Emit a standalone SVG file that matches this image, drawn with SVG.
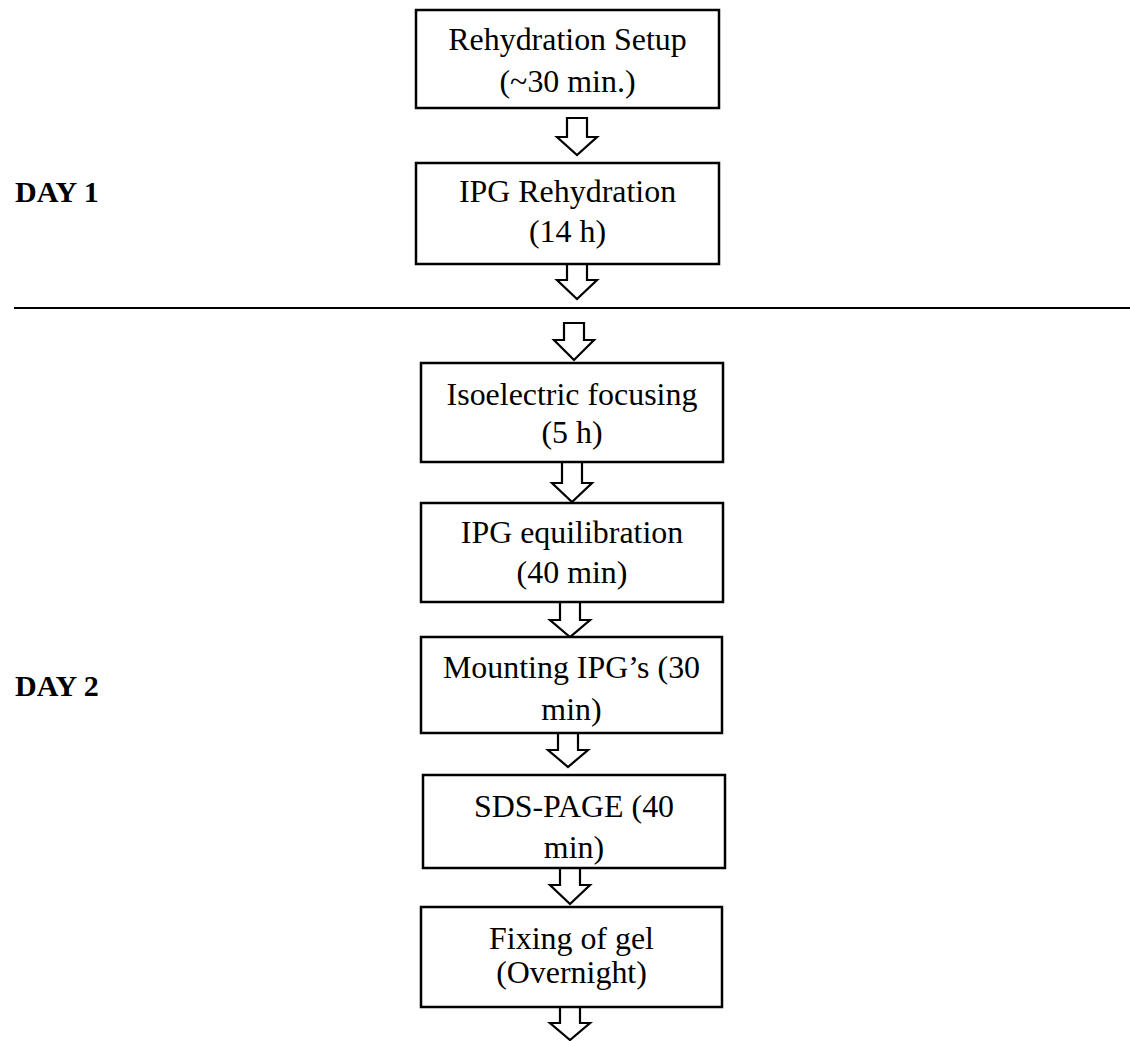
<svg xmlns="http://www.w3.org/2000/svg" width="1130" height="1041" viewBox="0 0 1130 1041">
  <style>
    .box { fill: #ffffff; stroke: #000000; stroke-width: 2.5; }
    .arrow { fill: #ffffff; stroke: #000000; stroke-width: 2.2; stroke-linejoin: miter; }
    .label { font-family: "Liberation Serif", "Times New Roman", serif; font-size: 31px; fill: #000000; text-anchor: middle; }
    .day { font-family: "Liberation Serif", "Times New Roman", serif; font-size: 30px; font-weight: bold; fill: #000000; }
    .rule { stroke: #000000; stroke-width: 2; }
  </style>
  <rect width="1130" height="1041" fill="#ffffff"/>

  <!-- day labels and the line between the two days -->
  <text id="day1" class="day" x="15" y="202">DAY 1</text>
  <text id="day2" class="day" x="15" y="696">DAY 2</text>
  <line id="day-divider" class="rule" x1="14" y1="308" x2="1130" y2="308"/>

  <!-- block arrows between steps -->
  <g id="connectors">
    <polygon class="arrow" points="567,118 567,137 557,137 577,155 597,137 587,137 587,118"/>
    <polygon class="arrow" points="567,264 567,280 557,280 577,299 597,280 587,280 587,264"/>
    <polygon class="arrow" points="564,323 564,340 554,340 574,360 594,340 584,340 584,323"/>
    <polygon class="arrow" points="562,462 562,483 552,483 572,502 592,483 582,483 582,462"/>
    <polygon class="arrow" points="560,602 560,620 550,620 570,637 590,620 580,620 580,602"/>
    <polygon class="arrow" points="558,733 558,750 548,750 568,767 588,750 578,750 578,733"/>
    <polygon class="arrow" points="560,868 560,885 550,885 570,904 590,885 580,885 580,868"/>
    <polygon class="arrow" points="560,1007 560,1023 550,1023 570,1040 590,1023 580,1023 580,1007"/>
  </g>

  <g id="rehydration-setup">
    <rect class="box" x="416" y="10" width="303" height="98"/>
    <g transform="translate(567.5 0) scale(1.03 1)">
      <text class="label" x="0" y="50">Rehydration Setup</text>
      <text class="label" x="0" y="92">(~30 min.)</text>
    </g>
  </g>

  <g id="ipg-rehydration">
    <rect class="box" x="416" y="163" width="303" height="101"/>
    <g transform="translate(567.5 0) scale(1.03 1)">
      <text class="label" x="0" y="202">IPG Rehydration</text>
      <text class="label" x="0" y="242">(14 h)</text>
    </g>
  </g>

  <g id="isoelectric-focusing">
    <rect class="box" x="421" y="363" width="302" height="99"/>
    <g transform="translate(572 0) scale(1.03 1)">
      <text class="label" x="0" y="405">Isoelectric focusing</text>
      <text class="label" x="0" y="443">(5 h)</text>
    </g>
  </g>

  <g id="ipg-equilibration">
    <rect class="box" x="421" y="503" width="302" height="99"/>
    <g transform="translate(572 0) scale(1.03 1)">
      <text class="label" x="0" y="543">IPG equilibration</text>
      <text class="label" x="0" y="583">(40 min)</text>
    </g>
  </g>

  <g id="mounting-ipgs">
    <rect class="box" x="421" y="637" width="301" height="96"/>
    <g transform="translate(571.5 0) scale(1.03 1)">
      <text class="label" x="0" y="678">Mounting IPG’s (30</text>
      <text class="label" x="0" y="720">min)</text>
    </g>
  </g>

  <g id="sds-page">
    <rect class="box" x="423" y="775" width="302" height="93"/>
    <g transform="translate(574 0) scale(1.03 1)">
      <text class="label" x="0" y="817">SDS-PAGE (40</text>
      <text class="label" x="0" y="858">min)</text>
    </g>
  </g>

  <g id="fixing-of-gel">
    <rect class="box" x="421" y="907" width="301" height="100"/>
    <g transform="translate(571.5 0) scale(1.03 1)">
      <text class="label" x="0" y="949">Fixing of gel</text>
      <text class="label" x="0" y="983">(Overnight)</text>
    </g>
  </g>
</svg>
